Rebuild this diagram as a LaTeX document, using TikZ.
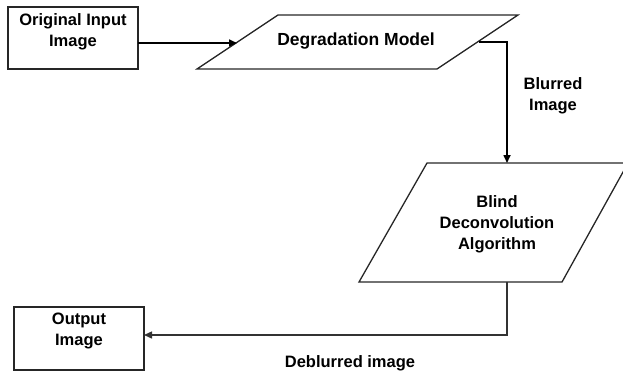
\documentclass[tikz,border=0pt]{standalone}
\usepackage{fontspec}
\setmainfont{Liberation Sans}
\usetikzlibrary{arrows.meta}
\begin{document}
\begin{tikzpicture}[x=1pt,y=-1pt,
  shapeline/.style={draw=black!85,line width=1.3pt},
  lbl/.style={font=\bfseries\fontsize{16.5}{21}\selectfont,align=center,inner sep=0pt},
  conn/.style={draw=black,line width=1.6pt,-{Triangle[length=8pt,width=7pt]}},
  connplain/.style={draw=black!80,line width=1.4pt}]
\useasboundingbox (0,0) rectangle (623,375);
% boxes
\draw[shapeline] (8,7) rectangle (138,69);
\draw[shapeline] (14,307) rectangle (144,370);
\coordinate (inR) at (138,43);
\coordinate (outR) at (144,335);
% parallelograms
\draw[shapeline] (278,15) -- (518,15) -- (437,69) -- (197,69) -- cycle;
\draw[shapeline] (427,163) -- (628,163) -- (562,282) -- (359,282) -- cycle;
\coordinate (degL) at (237,43);
\coordinate (degR) at (479,42);
\coordinate (bdTop) at (507,163);
\coordinate (bdBot) at (507,282);
% texts
\node[lbl] (t1) at (73,32) {Original Input\\Image};
\node[lbl] (t2) at (79,331) {Output\\Image};
\node[lbl,font=\bfseries\fontsize{17.5}{21}\selectfont] (t3) at (356,41) {Degradation Model};
\node[lbl] (t4) at (553,96) {Blurred\\Image};
\node[lbl] (t5) at (497,224) {Blind\\Deconvolution\\Algorithm};
\node[lbl] (t6) at (350,363) {Deblurred image};
% connectors
\draw[conn] (inR) -- (degL);
\draw[conn] (degR) -| (bdTop);
\draw[connplain,-{Triangle[length=8pt,width=7pt]}] (bdBot) |- (outR);
\end{tikzpicture}
\end{document}
